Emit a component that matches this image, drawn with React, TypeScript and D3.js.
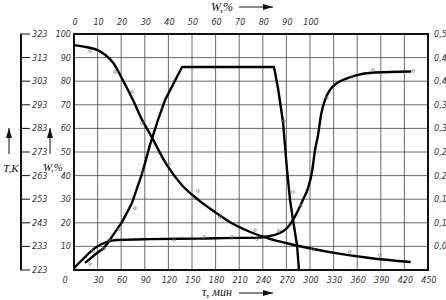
import React from "react";
import * as d3 from "d3";

// time axis, minutes
const tauTicks = [0, 30, 60, 90, 120, 150, 180, 210, 240, 270, 300, 330, 360, 390, 420, 450];
// top W,% axis
const topWTicks = [0, 10, 20, 30, 40, 50, 60, 70, 80, 90, 100];
// left W,% axis
const leftWTicks = [10, 20, 30, 40, 50, 60, 70, 80, 90, 100];
// T,K axis
const tempTicks = [223, 233, 243, 253, 263, 273, 283, 293, 303, 313, 323];
// right axis
const rightTicks = [0.05, 0.1, 0.15, 0.2, 0.25, 0.3, 0.35, 0.4, 0.45, 0.5];

// moisture W,% vs tau
const moistTau = [0, 15, 30, 40, 50, 62, 75, 86, 98, 118, 137, 158, 179, 198, 224, 245, 280, 325, 376, 428];
const moistW = [95.3, 94.5, 93.2, 91.1, 87.7, 80.5, 72, 64, 56.8, 44.5, 36, 29.7, 24.6, 20.3, 16.1, 13.6, 10.6, 7.6, 5.1, 3.4];

// product temperature, K
const prodTau = [0, 7.6, 14, 26.7, 42, 54.7, 96.6, 160, 211, 230, 245, 259, 271, 278.4, 291, 297.5, 302.5, 306.4, 310.2, 314, 319, 325.4, 334.3, 344.5, 357.2, 382.6, 428.4];
const prodT = [223.8, 226.4, 228.5, 232.3, 234.9, 235.7, 236.1, 236.3, 236.6, 236.6, 237.2, 238.3, 240.8, 244.2, 252.7, 257.7, 264.5, 273.8, 280.2, 288.7, 295, 299.3, 302.2, 303.9, 305.4, 306.7, 307.1];

// heater temperature, K
const heatTau = [14, 21.6, 29.2, 36.9, 42, 49.6, 61, 73.7, 86.4, 96.6, 106.8, 115.7, 137.3, 254.2, 259.3, 265.7, 270.8, 274.6, 278.4, 283.5, 286];
const heatT = [226, 228.1, 230.2, 232, 234, 237.8, 243.3, 251.4, 263.7, 276, 286.6, 295, 309, 309, 300.1, 285.7, 265.4, 252.7, 244.2, 233.6, 223];

// measured points
const moistPtTau = [17.8, 49.6, 71.2, 83.9, 118.2, 155, 183, 227.5, 301, 348, 386];
const moistPtW = [92.4, 83.5, 75, 61.9, 44.5, 33, 22, 16.5, 8.5, 7.2, 5.9];
const prodPtTau = [21.6, 42, 124.6, 162.7, 198.3, 230, 258, 286, 319, 351, 377.5, 428.4];
const prodPtT = [230.6, 235.3, 235.3, 236.6, 236.6, 235.7, 239.1, 249.7, 295.5, 304.4, 307.3, 306.9];
const heatPtTau = [17.8, 35.6, 54.7, 75, 83.9, 264.4, 275.8];
const heatPtT = [225.1, 231.5, 239.9, 248.8, 264.1, 285.7, 255.6];

const L = 74, R = 428, T = 34, B = 270;
const x = d3.scaleLinear().domain([0, 450]).range([L, R]);
const xTop = d3.scaleLinear().domain([0, 150]).range([L, R]);
const yW = d3.scaleLinear().domain([0, 100]).range([B, T]);
const yT = d3.scaleLinear().domain([223, 323]).range([B, T]);
const yR = d3.scaleLinear().domain([0, 0.5]).range([B, T]);

const font = "'Liberation Sans Narrow', 'DejaVu Sans Condensed', sans-serif";
const serif = "'Liberation Serif', 'DejaVu Serif', serif";

const fmtComma = (v: number) => String(+v.toFixed(2)).replace(".", ",");

export default function App() {
  const moist = moistTau.map((t, i) => [x(t), yW(moistW[i])] as [number, number]);
  const prod = prodTau.map((t, i) => [x(t), yT(prodT[i])] as [number, number]);
  const heat = heatTau.map((t, i) => [x(t), yT(heatT[i])] as [number, number]);
  const smooth = d3.line().curve(d3.curveMonotoneX);
  const lin = d3.line();

  const gridX = d3.range(0, 451, 30);
  const gridY = d3.range(0, 101, 10);
  const pts: [number, number][] = [
    ...moistPtTau.map((t, i) => [x(t), yW(moistPtW[i])] as [number, number]),
    ...prodPtTau.map((t, i) => [x(t), yT(prodPtT[i])] as [number, number]),
    ...heatPtTau.map((t, i) => [x(t), yT(heatPtT[i])] as [number, number]),
  ];

  return (
    <svg width={446} height={300} style={{ position: "absolute", left: 0, top: 0, background: "#fff" }}>
      <defs>
        <marker id="ah" viewBox="0 0 10 6" refX="10" refY="3" markerWidth="10" markerHeight="6" markerUnits="userSpaceOnUse" orient="auto">
          <path d="M0,0 L10,3 L0,6 Z" fill="#111" />
        </marker>
      </defs>
      {/* grid */}
      {gridX.map((g) => (
        <line key={"gx" + g} x1={x(g)} x2={x(g)} y1={T} y2={B} stroke="#444" strokeWidth={0.8} />
      ))}
      {gridY.map((g) => (
        <line key={"gy" + g} x1={L} x2={R} y1={yW(g)} y2={yW(g)} stroke="#444" strokeWidth={0.8} />
      ))}
      <rect x={L} y={T} width={R - L} height={B - T} fill="none" stroke="#111" strokeWidth={2} />

      {/* T,K axis */}
      <line x1={21} x2={21} y1={T} y2={B} stroke="#111" strokeWidth={2} />
      {tempTicks.map((v) => (
        <g key={"t" + v}>
          <line x1={20} x2={30} y1={yT(v)} y2={yT(v)} stroke="#111" strokeWidth={1} />
          <text x={32} y={yT(v) + 3} fontSize={9} fontStyle="italic" fontFamily={font} fill="#333">{v}</text>
        </g>
      ))}

      {/* left W labels */}
      {leftWTicks.map((v) => (
        <text key={"lw" + v} x={71} y={yW(v) + 3} textAnchor="end" fontSize={9} fontStyle="italic" fontFamily={font} fill="#333">{v}</text>
      ))}
      {/* right labels */}
      {rightTicks.map((v) => (
        <text key={"r" + v} x={434} y={yR(v) + 3} fontSize={9} fontStyle="italic" fontFamily={font} fill="#333">{fmtComma(v)}</text>
      ))}
      {/* top labels */}
      {topWTicks.map((v) => (
        <text key={"tw" + v} x={xTop(v) + 1} y={25} textAnchor="middle" fontSize={9} fontStyle="italic" fontFamily={font} fill="#333">{v}</text>
      ))}
      {/* bottom labels */}
      {tauTicks.map((v) => (
        <text key={"b" + v} x={v === 0 ? 65 : x(v) + 1} y={283} textAnchor="middle" fontSize={9} fontStyle="italic" fontFamily={font} fill="#333">{v}</text>
      ))}

      {/* axis titles */}
      <text x={222} y={11} textAnchor="middle" fontSize={12} fontStyle="italic" fontFamily={serif} fill="#111">W,%</text>
      <line x1={239} x2={273} y1={7} y2={7} stroke="#111" strokeWidth={1} markerEnd="url(#ah)" />
      <text x={217} y={296} textAnchor="middle" fontSize={12} fontStyle="italic" fontFamily={serif} fill="#111">τ, мин</text>
      <line x1={239} x2={273} y1={293} y2={293} stroke="#111" strokeWidth={1} markerEnd="url(#ah)" />
      <text x={11} y={172} textAnchor="middle" fontSize={11} fontStyle="italic" fontFamily={serif} fill="#111">T,K</text>
      <line x1={9} x2={9} y1={154} y2={128} stroke="#111" strokeWidth={1} markerEnd="url(#ah)" />
      <text x={53} y={171} textAnchor="middle" fontSize={11} fontStyle="italic" fontFamily={serif} fill="#111">W,%</text>
      <line x1={50} x2={50} y1={154} y2={128} stroke="#111" strokeWidth={1} markerEnd="url(#ah)" />

      {/* curves */}
      <path d={smooth(moist) || ""} fill="none" stroke="#000" strokeWidth={2.4} />
      <path d={smooth(prod) || ""} fill="none" stroke="#000" strokeWidth={2.4} />
      <path d={lin(heat) || ""} fill="none" stroke="#000" strokeWidth={2.4} strokeLinejoin="round" />

      {pts.map((p, i) => (
        <circle key={"p" + i} cx={p[0] + 2} cy={p[1] - 1} r={1.4} fill="none" stroke="#777" strokeWidth={0.7} />
      ))}
    </svg>
  );
}
